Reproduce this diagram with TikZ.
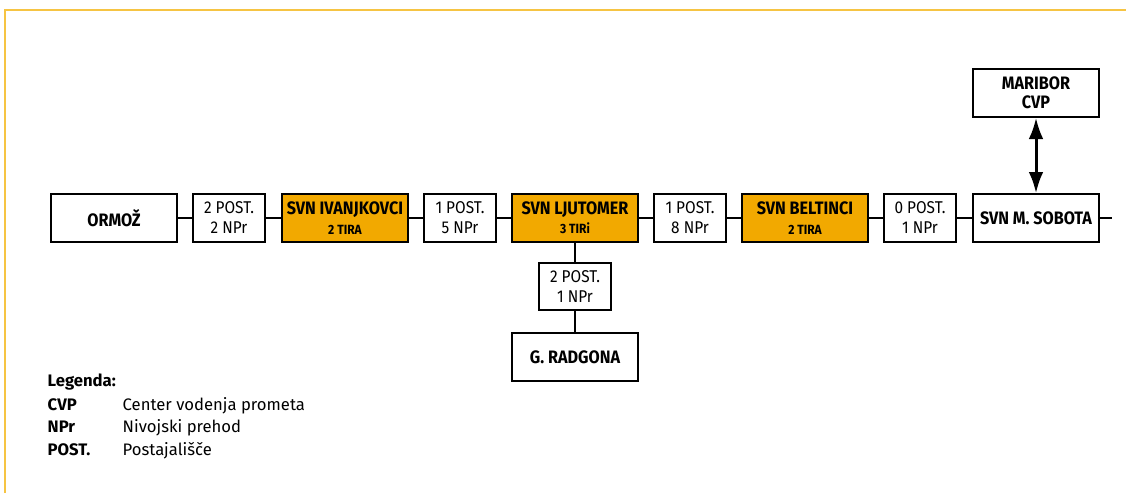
\documentclass[tikz,border=0pt]{standalone}
\usepackage{fontspec}
\setmainfont{Fira Sans}
\newfontfamily\narrow{Fira Sans}[FakeStretch=0.9]
\usetikzlibrary{arrows.meta}
\definecolor{gold}{HTML}{F2A900}
\definecolor{rim}{HTML}{F6C443}
\newcommand{\tirs}[1]{{\fontsize{10}{11}\selectfont #1}}

\begin{document}
\begin{tikzpicture}[x=0.75pt,y=-0.75pt,
  box/.style={draw,line width=1.5pt,minimum height=35.5pt,inner sep=1pt,align=center,
    font=\narrow\bfseries\fontsize{13.5}{14.5}\selectfont},
  stn/.style={box,minimum width=94.5pt},
  hub/.style={stn,fill=gold},
  cnt/.style={box,minimum width=54pt,font=\narrow\fontsize{12.8}{15}\selectfont},
  link/.style={line width=0.9pt},
  spur/.style={line width=1.5pt},
  lgd/.style={anchor=base west,font=\fontsize{12.5}{14}\selectfont},
  lgdk/.style={lgd,font=\bfseries\fontsize{12.5}{14}\selectfont}]
\useasboundingbox (0,0) rectangle (1126,493);
\draw[rim,line width=1.5pt] (5,493) |- (1126,10);
% main line
\node[stn] (ormoz) at (114,218) {ORMOŽ};
\node[cnt] (c1) at (229,218) {2 POST.\\2 NPr};
\node[hub] (ivan) at (345,218) {SVN IVANJKOVCI\\\tirs{2 TIRA}};
\node[cnt] (c2) at (460,218) {1 POST.\\5 NPr};
\node[hub] (ljut) at (575,218) {SVN LJUTOMER\\\tirs{3 TIRi}};
\node[cnt] (c3) at (690,218) {1 POST.\\8 NPr};
\node[hub] (belt) at (805,218) {SVN BELTINCI\\\tirs{2 TIRA}};
\node[cnt] (c4) at (920,218) {0 POST.\\1 NPr};
\node[stn] (sob) at (1036,218) {SVN M. SOBOTA};
\coordinate (east) at (1112,218);
\draw[link] (ormoz) -- (c1) -- (ivan) -- (c2) -- (ljut) -- (c3) -- (belt) -- (c4) -- (sob) -- (east);
% branch to Radgona
\node[cnt] (c5) at (575,286.5) {2 POST.\\1 NPr};
\node[stn] (rad) at (575,357) {G. RADGONA};
\draw[spur] (ljut) -- (c5) -- (rad);
% control centre
\node[stn] (mb) at (1036,93) {MARIBOR\\CVP};
\draw[{Latex[length=16pt,width=11pt]}-{Latex[length=16pt,width=11pt]},line width=2.25pt] (mb) -- (sob);
% legend
\node[lgdk] (leg) at (43,386) {Legenda:};
\node[lgdk] (kcvp) at (43,410) {CVP};
\node[lgd] (dcvp) at (118,410) {Center vodenja prometa};
\node[lgdk] (knpr) at (43,432.5) {NPr};
\node[lgd] (dnpr) at (118,432.5) {Nivojski prehod};
\node[lgdk] (kpost) at (43,455) {POST.};
\node[lgd] (dpost) at (118,455) {Postajališče};
\end{tikzpicture}
\end{document}
